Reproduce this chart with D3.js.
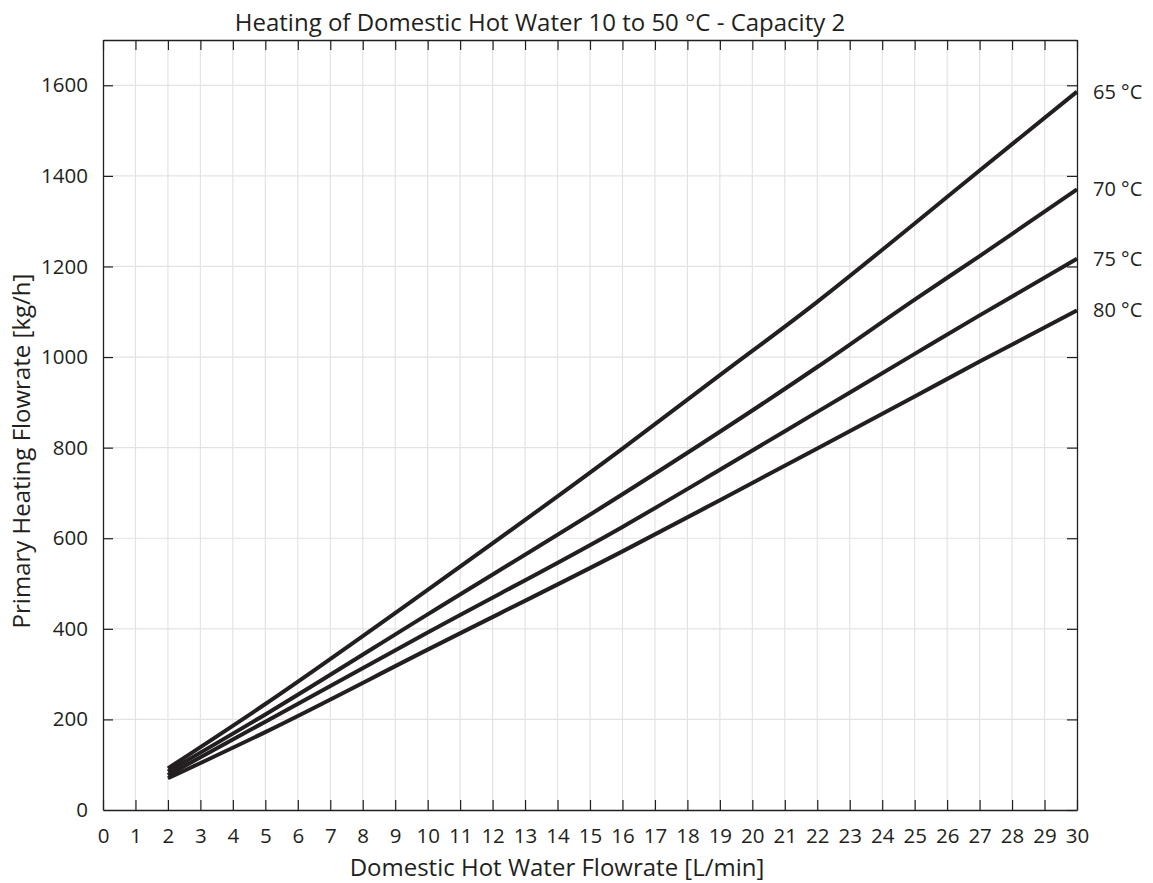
<!DOCTYPE html>
<html>
<head>
<meta charset="utf-8">
<script src="https://cdn.jsdelivr.net/npm/d3@7"></script>
<style>
    body { margin: 0; background: #fff; }
    text { font-family: "Open Sans", "Noto Sans", sans-serif; fill: #231f20; }
</style>
</head>
<body>
<div id="chart"></div>
<script>
// values
var flowrate = [2, 5, 10, 16, 19, 22, 25, 27, 30];
var primary65 = [92, 234, 486, 798, 960, 1122, 1295, 1412, 1586];
var primary70 = [85, 211, 432, 697, 835, 978, 1127, 1223, 1370];
var primary75 = [77, 195, 392, 625, 751, 879, 1007, 1092, 1217];
var primary80 = [70, 172, 354, 571, 684, 798, 913, 990, 1103];
var seriesNames = ["65 °C", "70 °C", "75 °C", "80 °C"];
var xTicks = d3.range(0, 31, 1);
var yTicks = [0, 200, 400, 600, 800, 1000, 1200, 1400, 1600];

var titleText = "Heating of Domestic Hot Water 10 to 50 °C - Capacity 2";
var xLabelText = "Domestic Hot Water Flowrate [L/min]";
var yLabelText = "Primary Heating Flowrate [kg/h]";

var margin = { top: 40, right: 76, bottom: 73, left: 103 },
    fullWidth = 1153,
    fullHeight = 883,
    width = fullWidth - margin.left - margin.right,
    height = fullHeight - margin.top - margin.bottom,
    tickLen = 10,
    ink = "#231f20";

var series = [primary65, primary70, primary75, primary80].map(function(vals, i) {
    return {
        name: seriesNames[i],
        points: vals.map(function(v, j) { return { x: flowrate[j], y: v }; })
    };
});

var xScale = d3.scaleLinear().domain([0, 30]).range([0, width]);
var yScale = d3.scaleLinear().domain([0, 1700]).range([height, 0]);

var svg = d3.select("#chart")
    .append("svg")
    .attr("width", fullWidth)
    .attr("height", fullHeight);

var plot = svg.append("g")
    .attr("transform", "translate(" + margin.left + "," + margin.top + ")");

// grid
plot.append("g")
    .selectAll("line")
    .data(xTicks.filter(function(d) { return d > 0 && d < 30; }))
    .enter()
    .append("line")
    .attr("x1", function(d) { return xScale(d); })
    .attr("x2", function(d) { return xScale(d); })
    .attr("y1", 0)
    .attr("y2", height)
    .attr("stroke", "#e3e3e3")
    .attr("stroke-width", 1.2);

plot.append("g")
    .selectAll("line")
    .data(yTicks.filter(function(d) { return d > 0; }))
    .enter()
    .append("line")
    .attr("x1", 0)
    .attr("x2", width)
    .attr("y1", function(d) { return yScale(d); })
    .attr("y2", function(d) { return yScale(d); })
    .attr("stroke", "#e3e3e3")
    .attr("stroke-width", 1.2);

// axes: ticks point inward on all four sides
var xBottom = plot.append("g")
    .attr("transform", "translate(0," + height + ")")
    .call(d3.axisBottom(xScale).tickValues(xTicks).tickSizeInner(-tickLen).tickSizeOuter(0).tickPadding(18));

var xTop = plot.append("g")
    .call(d3.axisTop(xScale).tickValues(xTicks).tickSizeInner(-tickLen).tickSizeOuter(0).tickFormat(""));

var yLeft = plot.append("g")
    .call(d3.axisLeft(yScale).tickValues(yTicks).tickFormat(d3.format("d"))
        .tickSizeInner(-tickLen).tickSizeOuter(0).tickPadding(15));

var yRight = plot.append("g")
    .attr("transform", "translate(" + width + ",0)")
    .call(d3.axisRight(yScale).tickValues(yTicks).tickSizeInner(-tickLen).tickSizeOuter(0).tickFormat(""));

[xBottom, xTop, yLeft, yRight].forEach(function(ax) {
    ax.select(".domain").attr("stroke", ink).attr("stroke-width", 1.3);
    ax.selectAll(".tick line").attr("stroke", ink).attr("stroke-width", 1.2);
    ax.selectAll(".tick text")
        .attr("font-size", 20.5)
        .attr("font-family", "Open Sans")
        .attr("fill", ink);
});

yLeft.selectAll(".tick").filter(function(d) { return d === 0; }).select("line").remove();

// lines
var line = d3.line()
    .curve(d3.curveMonotoneX)
    .x(function(d) { return xScale(d.x); })
    .y(function(d) { return yScale(d.y); });

plot.selectAll("path.series")
    .data(series)
    .enter()
    .append("path")
    .attr("class", "series")
    .attr("d", function(d) { return line(d.points); })
    .attr("fill", "none")
    .attr("stroke", ink)
    .attr("stroke-width", 4);

// series labels at the right end
plot.selectAll("text.seriesLabel")
    .data(series)
    .enter()
    .append("text")
    .attr("class", "seriesLabel")
    .attr("x", width + 16)
    .attr("y", function(d) { return yScale(d.points[d.points.length - 1].y); })
    .attr("dy", "0.35em")
    .attr("font-size", 20)
    .text(function(d) { return d.name; });

// titles
svg.append("text")
    .attr("x", 540)
    .attr("y", 31)
    .attr("text-anchor", "middle")
    .attr("font-size", 24)
    .text(titleText);

svg.append("text")
    .attr("x", 557)
    .attr("y", 876)
    .attr("text-anchor", "middle")
    .attr("font-size", 24)
    .text(xLabelText);

svg.append("text")
    .attr("transform", "translate(30,451) rotate(-90)")
    .attr("text-anchor", "middle")
    .attr("font-size", 24)
    .text(yLabelText);
</script>
</body>
</html>
